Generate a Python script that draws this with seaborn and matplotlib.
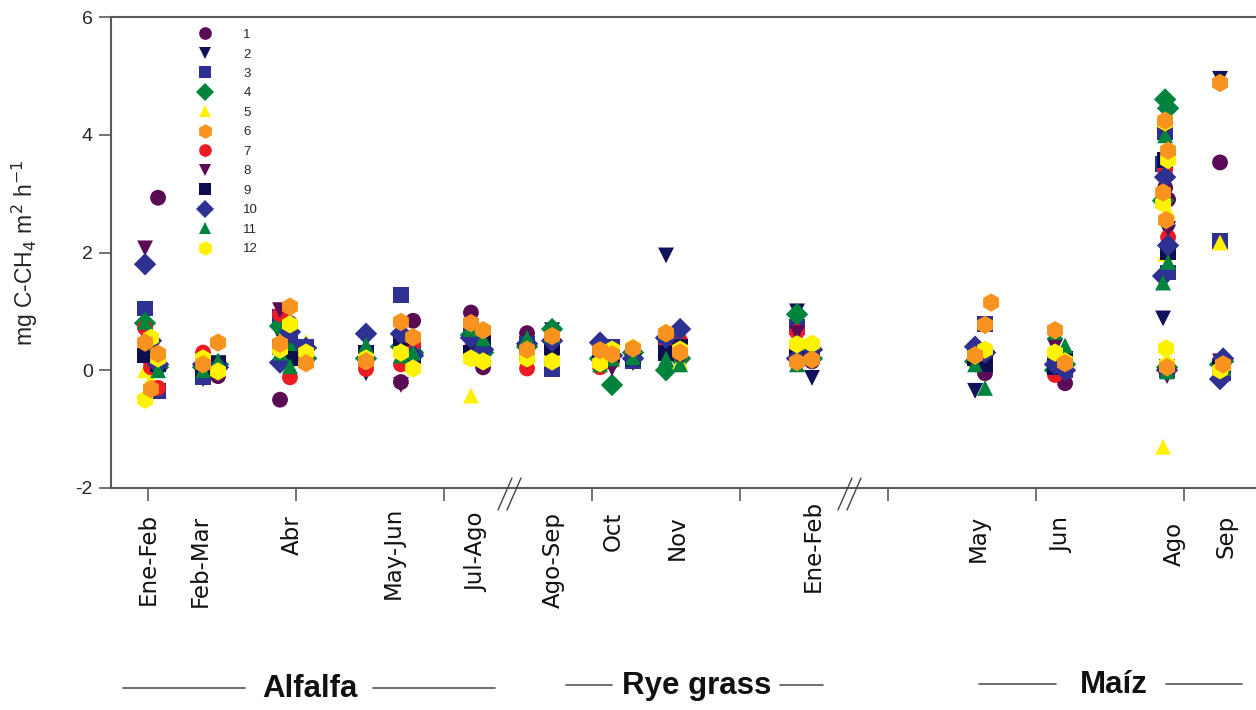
import numpy as np
import pandas as pd
import matplotlib
matplotlib.use("Agg")
import matplotlib.pyplot as plt
from matplotlib.lines import Line2D
from matplotlib.transforms import blended_transform_factory
import seaborn as sns

nan = np.nan

# posicion de cada muestreo en el eje x (1 unidad = distancia entre marcas)
x_muestreo = [-0.020, 0.020, 0.068, 0.372, 0.473, 0.892, 0.959, 1.068,
              1.473, 1.709, 1.791, 2.182, 2.264, 2.561, 2.730,
              3.054, 3.135, 3.277, 3.500, 3.595, 4.385, 4.486,
              5.588, 5.655, 5.696, 6.128, 6.196,
              6.872, 6.892, 6.858, 6.878, 6.885, 7.243, 7.264]

# flujo de metano por camara (mg C-CH4 m-2 h-1), un valor por muestreo
s1 = [0.30, 0.15, 2.93, 0.20, -0.10, -0.50, 0.80, 0.30, 0.10, -0.20, 0.84, 0.98, 0.05, 0.63, 0.30,
      0.15, 0.20, 0.20, 0.35, 0.20, 0.20, 0.15, 0.30, -0.05, nan, 0.10, -0.22,
      3.10, 2.90, nan, nan, 0.05, 3.53, 0.00]
s2 = [0.60, 0.10, 0.20, -0.15, 0.10, 0.60, 0.30, 0.35, -0.05, 0.30, 0.20, 0.50, 0.30, 0.30, 0.68,
      0.25, 0.10, 0.25, 1.95, 0.10, 1.00, -0.13, -0.35, 0.20, nan, 0.40, 0.05,
      3.20, 2.34, 0.88, nan, 0.02, 4.95, 0.10]
s3 = [1.05, 0.35, -0.35, -0.12, 0.12, 0.90, 0.50, 0.40, 0.30, 1.28, 0.35, 0.75, 0.40, 0.45, 0.02,
      0.35, 0.40, 0.15, 0.45, 0.30, 0.73, 0.30, 0.30, 0.78, nan, 0.15, 0.00,
      4.04, 1.66, 3.50, nan, 0.00, 2.20, -0.05]
s4 = [0.80, 0.20, 0.05, 0.05, 0.10, 0.75, 0.30, 0.20, 0.20, 0.40, 0.30, 0.60, 0.30, 0.40, 0.70,
      0.20, -0.25, 0.30, 0.00, 0.20, 0.95, 0.20, 0.15, 0.30, nan, 0.00, 0.10,
      4.60, 4.45, 2.88, nan, 0.05, 0.10, 0.15]
s5 = [0.00, -0.15, 0.25, 0.20, 0.05, 0.50, 0.20, 0.48, 0.25, 0.50, 0.15, -0.43, 0.25, 0.25, 0.20,
      0.30, 0.20, 0.25, 0.50, 0.15, 0.30, 0.35, 0.20, 0.35, nan, 0.25, 0.20,
      1.98, 2.70, -1.30, nan, 0.05, 2.17, 0.05]
s6 = [0.47, -0.32, 0.28, 0.10, 0.47, 0.45, 1.08, 0.12, 0.15, 0.82, 0.56, 0.80, 0.68, 0.35, 0.58,
      0.34, 0.27, 0.37, 0.63, 0.30, 0.14, 0.18, 0.25, 0.77, 1.15, 0.68, 0.12,
      4.24, 3.73, 3.02, 2.55, 0.05, 4.88, 0.10]
s7 = [0.72, 0.05, -0.30, 0.30, 0.08, 0.95, -0.12, 0.25, 0.02, 0.10, 0.45, 0.35, 0.45, 0.03, 0.45,
      0.05, 0.15, 0.28, 0.40, 0.50, 0.65, 0.25, 0.35, 0.15, nan, -0.08, 0.15,
      3.40, 2.26, nan, nan, 0.08, -0.05, 0.05]
s8 = [2.07, 0.40, 0.15, 0.15, 0.05, 1.02, 0.60, 0.30, 0.10, -0.25, 0.20, 0.40, 0.25, 0.15, 0.25,
      0.25, 0.03, 0.12, 0.25, 0.15, 0.63, 0.20, 0.10, 0.25, nan, 0.42, 0.10,
      4.07, 2.40, nan, nan, -0.10, 0.15, 0.00]
s9 = [0.25, 0.35, 0.10, 0.00, 0.10, 0.40, 0.20, 0.30, 0.30, 0.55, 0.10, 0.30, 0.50, 0.30, 0.40,
      0.20, 0.30, 0.20, 0.30, 0.40, 0.30, 0.25, 0.20, 0.10, nan, 0.05, 0.20,
      3.57, 2.00, nan, nan, 0.05, 0.05, 0.10]
s10 = [1.80, 0.50, 0.10, 0.10, 0.05, 0.13, 0.65, 0.38, 0.62, 0.62, 0.25, 0.55, 0.35, 0.45, 0.50,
       0.47, 0.25, 0.20, 0.55, 0.70, 0.20, 0.35, 0.40, 0.30, nan, 0.10, 0.00,
       3.28, 2.12, 1.60, nan, 0.00, -0.15, 0.20]
s11 = [0.82, 0.60, 0.00, 0.00, 0.15, 0.30, 0.07, 0.20, 0.43, 0.25, 0.30, 0.70, 0.54, 0.55, 0.60,
       0.10, 0.20, 0.22, 0.20, 0.10, 0.10, 0.30, 0.10, -0.30, nan, 0.65, 0.42,
       3.99, 1.84, 1.49, nan, -0.02, 0.10, 0.05]
s12 = [-0.50, 0.55, 0.20, 0.20, -0.02, 0.35, 0.78, 0.30, 0.20, 0.30, 0.03, 0.20, 0.15, 0.20, 0.15,
       0.12, 0.35, 0.38, 0.63, 0.35, 0.44, 0.45, 0.25, 0.35, nan, 0.30, 0.15,
       4.21, 3.57, 2.83, 0.37, 0.10, 0.00, 0.08]

series = {"1": s1, "2": s2, "3": s3, "4": s4, "5": s5, "6": s6,
          "7": s7, "8": s8, "9": s9, "10": s10, "11": s11, "12": s12}
nombres = list(series.keys())

# etiquetas de los periodos y cultivos
periodos = ["Ene-Feb", "Feb-Mar", "Abr", "May-Jun", "Jul-Ago", "Ago-Sep", "Oct",
            "Nov", "Ene-Feb", "May", "Jun", "Ago", "Sep"]
x_periodos = [0.0, 0.351, 0.973, 1.655, 2.223, 2.736, 3.142, 3.574, 4.493,
              5.608, 6.176, 6.932, 7.284]
cultivos = ["Alfalfa", "Rye grass", "Maíz"]

colores = {"1": "#5B0B55", "2": "#12125C", "3": "#2E3192", "4": "#00843D",
           "5": "#FFF200", "6": "#F7931E", "7": "#ED1C24", "8": "#5B0B55",
           "9": "#0E0E4E", "10": "#2E3192", "11": "#00843D", "12": "#FFF200"}
marcadores = {"1": "o", "2": "v", "3": "s", "4": "D", "5": "^", "6": "h",
              "7": "o", "8": "v", "9": "s", "10": "D", "11": "^", "12": "h"}
tamanos = {k: (175 if marcadores[k] == "h" else 130) for k in nombres}

# el naranja queda encima, como en el original
orden_dibujo = ["1", "2", "3", "4", "5", "7", "8", "9", "10", "11", "12", "6"]
df = pd.concat([pd.DataFrame({"x": x_muestreo, "valor": series[k], "serie": k})
                for k in orden_dibujo]).dropna()

sns.set_style("ticks")
plt.rcParams["font.family"] = ["Liberation Sans", "DejaVu Sans"]
plt.rcParams["axes.unicode_minus"] = False

W, H = 1256, 710
fig = plt.figure(figsize=(W / 100, H / 100), dpi=100)
ax = fig.add_axes([111 / W, 1 - 488 / H, 1 - 111 / W, (488 - 17) / H])

sns.scatterplot(data=df, x="x", y="valor", hue="serie", style="serie",
                size="serie", sizes=tamanos, size_order=nombres,
                hue_order=nombres, style_order=nombres, palette=colores,
                markers=marcadores, linewidth=0, edgecolor="none",
                ax=ax, legend="full")

ax.set_xlim(-0.25, 7.486)
ax.set_ylim(-2, 6)
ax.set_yticks([-2, 0, 2, 4, 6])
ax.set_xticks(range(8))
ax.set_xticklabels([])
ax.set_xlabel("")
ax.set_ylabel("mg C-CH$_4$ m$^2$ h$^{-1}$", fontsize=16.5)
ax.yaxis.set_label_coords(-0.062, 0.5)

ax.spines["right"].set_visible(False)
for lado in ["left", "bottom", "top"]:
    ax.spines[lado].set_color("#5a5a5a")
    ax.spines[lado].set_linewidth(1.5)
ax.tick_params(axis="both", direction="out", length=9, width=1.2,
               color="#5a5a5a", labelsize=14, pad=4)

# leyenda
handles, labels = ax.get_legend_handles_labels()
pares = [(h, l) for h, l in zip(handles, labels) if l in nombres]
ax.legend([p[0] for p in pares], [p[1] for p in pares], loc="upper left",
          bbox_to_anchor=(0.0707, 0.975), frameon=False, fontsize=9.5,
          markerscale=0.8, handlelength=2.0, handletextpad=1.9,
          labelspacing=0.55, borderaxespad=0, borderpad=0)

# etiquetas de periodos, verticales bajo el eje
trans = blended_transform_factory(ax.transData, fig.transFigure)
tops_px = [513, 515, 515, 507, 512, 512, 512, 515, 500, 515, 517, 522, 515]
for etiqueta, xp, top in zip(periodos, x_periodos, tops_px):
    ax.text(xp, 1 - top / H, etiqueta, transform=trans, rotation=90,
            ha="center", va="top", fontsize=16.5, family="DejaVu Sans",
            color="#111111")

# marcas de corte del eje
for x0 in [498, 507, 838, 847]:
    fig.add_artist(Line2D([x0 / W, (x0 + 14) / W], [1 - 510 / H, 1 - 478 / H],
                          transform=fig.transFigure, color="#444444", lw=1))

# nombres de cultivos con sus lineas
centros = [(310, 689), (697, 686), (1114, 685)]
lineas = [[(123, 245), (373, 495)], [(566, 612), (780, 823)],
          [(979, 1056), (1166, 1242)]]
for nombre, (cx, cy), segs in zip(cultivos, centros, lineas):
    fig.text(cx / W, 1 - cy / H, nombre, ha="center", va="center",
             fontsize=22.5, fontweight="bold", color="#111111")
    for a, b in segs:
        fig.add_artist(Line2D([a / W, b / W], [1 - (cy - 1) / H, 1 - (cy - 1) / H],
                              transform=fig.transFigure, color="#555555", lw=1.2))

fig.savefig("out.png", dpi=100)
